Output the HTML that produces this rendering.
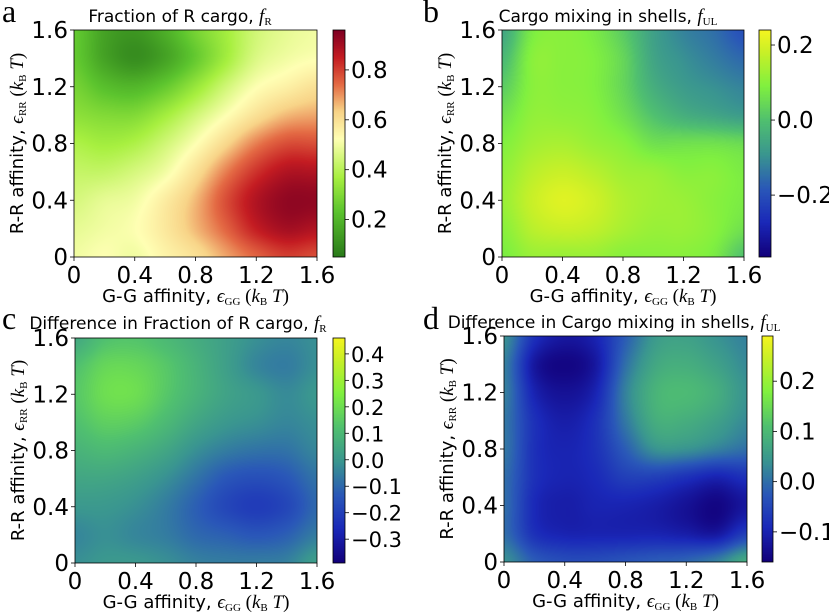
<!DOCTYPE html>
<html><head><meta charset="utf-8">
<style>
html,body{margin:0;padding:0;background:#fff;}
#root{position:relative;width:829px;height:616px;overflow:hidden;font-family:"DejaVu Sans","Liberation Sans",sans-serif;}
canvas{position:absolute;}
svg{position:absolute;left:0;top:0;}
</style></head>
<body>
<div id="root">
<svg id="ov" width="829" height="616"></svg>
</div>
<script>
// ---- Data (9x9 grids; rows = R-R affinity 0..1.6, cols = G-G affinity 0..1.6) ----
const axisTicks = [0, 0.4, 0.8, 1.2, 1.6];
const axisTickLabels = ["0", "0.4", "0.8", "1.2", "1.6"];
const gridCoords = [0, 0.2, 0.4, 0.6, 0.8, 1.0, 1.2, 1.4, 1.6];

const valuesA = [
 [0.50,0.52,0.50,0.55,0.60,0.68,0.75,0.80,0.78],
 [0.48,0.50,0.52,0.58,0.66,0.75,0.85,0.90,0.88],
 [0.45,0.48,0.50,0.57,0.66,0.78,0.88,0.93,0.93],
 [0.42,0.42,0.45,0.50,0.60,0.72,0.82,0.88,0.88],
 [0.38,0.36,0.38,0.44,0.52,0.62,0.72,0.78,0.78],
 [0.32,0.30,0.30,0.36,0.44,0.52,0.60,0.66,0.68],
 [0.28,0.22,0.20,0.25,0.34,0.44,0.52,0.56,0.60],
 [0.25,0.15,0.10,0.15,0.25,0.36,0.46,0.50,0.52],
 [0.25,0.15,0.12,0.18,0.28,0.36,0.44,0.48,0.50]];
const valuesB = [
 [0.08,0.12,0.12,0.12,0.10,0.10,0.10,0.08,0.00],
 [0.10,0.16,0.18,0.17,0.14,0.12,0.12,0.10,0.06],
 [0.12,0.18,0.21,0.19,0.15,0.13,0.12,0.10,0.08],
 [0.11,0.16,0.18,0.16,0.13,0.12,0.10,0.10,0.08],
 [0.09,0.13,0.14,0.12,0.10,0.06,0.06,0.06,0.05],
 [0.06,0.11,0.11,0.10,0.06,0.00,-0.04,-0.06,-0.08],
 [0.02,0.10,0.10,0.09,0.04,-0.04,-0.08,-0.10,-0.12],
 [-0.02,0.10,0.10,0.09,0.04,-0.06,-0.10,-0.13,-0.16],
 [-0.06,0.08,0.10,0.08,0.02,-0.07,-0.12,-0.15,-0.20]];
const valuesC = [
 [-0.02,0.00,0.00,-0.02,-0.05,-0.06,-0.06,-0.05,0.02],
 [-0.04,-0.02,-0.04,-0.06,-0.10,-0.12,-0.14,-0.12,-0.06],
 [0.00,0.00,-0.02,-0.06,-0.12,-0.18,-0.21,-0.18,-0.10],
 [0.04,0.04,0.02,-0.02,-0.08,-0.14,-0.16,-0.14,-0.08],
 [0.08,0.10,0.08,0.04,-0.02,-0.06,-0.08,-0.08,-0.04],
 [0.12,0.16,0.15,0.10,0.04,0.00,-0.02,-0.04,-0.02],
 [0.14,0.20,0.20,0.14,0.08,0.03,0.00,-0.03,0.00],
 [0.12,0.18,0.18,0.14,0.08,0.02,-0.04,-0.06,-0.02],
 [0.05,0.12,0.13,0.10,0.06,0.02,-0.02,-0.04,-0.02]];
const valuesD = [
 [0.04,-0.02,-0.04,-0.04,-0.03,-0.02,-0.01,0.02,0.08],
 [0.00,-0.08,-0.10,-0.10,-0.10,-0.10,-0.11,-0.12,-0.06],
 [0.00,-0.09,-0.11,-0.10,-0.10,-0.11,-0.13,-0.15,-0.12],
 [0.00,-0.08,-0.10,-0.09,-0.06,-0.06,-0.08,-0.10,-0.08],
 [0.01,-0.08,-0.10,-0.08,-0.02,0.04,0.04,0.02,0.00],
 [0.01,-0.08,-0.11,-0.08,0.01,0.08,0.08,0.06,0.03],
 [0.02,-0.10,-0.13,-0.10,0.02,0.09,0.10,0.08,0.04],
 [0.02,-0.12,-0.15,-0.12,0.00,0.07,0.08,0.06,0.03],
 [0.04,-0.08,-0.12,-0.10,-0.02,0.05,0.06,0.04,0.02]];

const cbTicksA = [0.2, 0.4, 0.6, 0.8];
const cbLabelsA = ["0.2","0.4","0.6","0.8"];
const cbTicksB = [-0.2, 0.0, 0.2];
const cbLabelsB = ["\u22120.2","0.0","0.2"];
const cbTicksC = [-0.3,-0.2,-0.1,0.0,0.1,0.2,0.3,0.4];
const cbLabelsC = ["\u22120.3","\u22120.2","\u22120.1","0.0","0.1","0.2","0.3","0.4"];
const cbTicksD = [-0.1, 0.0, 0.1, 0.2];
const cbLabelsD = ["\u22120.1","0.0","0.1","0.2"];

// ---- colormaps ----
const cmapRYG = [[0,"#2a7a1a"],[0.2,"#5cc42e"],[0.35,"#a8f040"],[0.52,"#ffffb4"],[0.64,"#f8d488"],[0.76,"#e46a44"],[0.88,"#c41c22"],[1,"#7e0022"]];
const cmapVG = [[0,"#12007a"],[0.15,"#1a28b8"],[0.3,"#2a58b8"],[0.45,"#3a9690"],[0.6,"#50c070"],[0.75,"#80f040"],[0.9,"#c8f028"],[1,"#f5f520"]];
function hex(c){return [parseInt(c.substr(1,2),16),parseInt(c.substr(3,2),16),parseInt(c.substr(5,2),16)];}
function cmapColor(cm,t){
  t=Math.max(0,Math.min(1,t));
  for(let i=1;i<cm.length;i++){ if(t<=cm[i][0]){ const a=hex(cm[i-1][1]),b=hex(cm[i][1]); const f=(t-cm[i-1][0])/(cm[i][0]-cm[i-1][0]); return [a[0]+(b[0]-a[0])*f,a[1]+(b[1]-a[1])*f,a[2]+(b[2]-a[2])*f]; } }
  return hex(cm[cm.length-1][1]);
}
function cr(p0,p1,p2,p3,t){return 0.5*(2*p1+(-p0+p2)*t+(2*p0-5*p1+4*p2-p3)*t*t+(-p0+3*p1-3*p2+p3)*t*t*t);}
function sample(g,x,y){
  const n=g.length; const ix=Math.min(n-2,Math.floor(x)), iy=Math.min(n-2,Math.floor(y));
  const fx=x-ix, fy=y-iy; const cl=i=>Math.max(0,Math.min(n-1,i));
  const rows=[];
  for(let j=-1;j<=2;j++){const r=g[cl(iy+j)]; rows.push(cr(r[cl(ix-1)],r[cl(ix)],r[cl(ix+1)],r[cl(ix+2)],fx));}
  return cr(rows[0],rows[1],rows[2],rows[3],fy);
}
const NS="http://www.w3.org/2000/svg";
const ov=document.getElementById('ov');
const root=document.getElementById('root');
function el(tag,attrs,parent){const e=document.createElementNS(NS,tag);for(const k in attrs)e.setAttribute(k,attrs[k]);(parent||ov).appendChild(e);return e;}
function txt(x,y,s,size,anchor,parent,extra){const t=el('text',Object.assign({x:x,y:y,'font-size':size,'text-anchor':anchor||'start',fill:'#000'},extra||{}),parent);t.textContent=s;return t;}

function panel(p){
  const g=el('g',{});
  
  
  const W=p.x1-p.x0,H=p.y1-p.y0;
  const xs=v=>p.x0+v/1.6*W, ys=v=>p.y1-v/1.6*H;
  const cv=document.createElement('canvas');
  cv.width=W;cv.height=H;cv.style.left=p.x0+'px';cv.style.top=p.y0+'px';
  
  
  root.insertBefore(cv,ov);
  const ctx=cv.getContext('2d');const img=ctx.createImageData(W,H);
  const n=p.data.length-1;
  for(let py=0;py<H;py++)for(let px=0;px<W;px++){
    const gx=(px+0.5)/W*n, gy=(H-py-0.5)/H*n;
    const v=sample(p.data,gx,gy);
    const c=cmapColor(p.cmap,(v-p.vmin)/(p.vmax-p.vmin));
    const k=(py*W+px)*4;img.data[k]=c[0];img.data[k+1]=c[1];img.data[k+2]=c[2];img.data[k+3]=255;
  }
  ctx.putImageData(img,0,0);
  const cb=document.createElement('canvas');
  const CW=p.c1-p.c0;cb.width=CW;cb.height=H;cb.style.left=p.c0+'px';cb.style.top=p.y0+'px';
  
  
  root.insertBefore(cb,ov);
  const c2=cb.getContext('2d');
  for(let py=0;py<H;py++){const c=cmapColor(p.cmap,(H-py-0.5)/H);c2.fillStyle=`rgb(${c[0]|0},${c[1]|0},${c[2]|0})`;c2.fillRect(0,py,CW,1);}
  el('rect',{x:p.x0,y:p.y0,width:W,height:H,fill:'none',stroke:'#000','stroke-width':0.8},g);
  el('rect',{x:p.c0,y:p.y0,width:CW,height:H,fill:'none',stroke:'#000','stroke-width':0.8},g);
  axisTicks.forEach((v,i)=>{
    el('line',{x1:xs(v),x2:xs(v),y1:p.y1,y2:p.y1+4,stroke:'#000','stroke-width':0.8},g);
    const tx=txt(xs(v),p.y1+26,axisTickLabels[i],23,'middle',g);
    
    
    el('line',{x1:p.x0-4,x2:p.x0,y1:ys(v),y2:ys(v),stroke:'#000','stroke-width':0.8},g);
    const ty=txt(p.x0-6,ys(v)+8,axisTickLabels[i],23,'end',g);
    
    
  });
  const cs=v=>p.y1-(v-p.vmin)/(p.vmax-p.vmin)*H;
  p.cbT.forEach((v,i)=>{
    el('line',{x1:p.c1,x2:p.c1+4,y1:cs(v),y2:cs(v),stroke:'#000','stroke-width':0.8},g);
    const t=txt(p.c1+6,cs(v)+8,p.cbL[i],p.cbSize||23,'start',g);
    
    
  });
  const xl=txt((p.x0+p.x1)/2,p.y1+45,'G-G affinity, ',18,'middle',g);
  
  
  addMath(xl,'GG');
  const yl=el('text',{x:0,y:0,'font-size':18,'text-anchor':'middle',transform:`translate(${p.x0-51},${(p.y0+p.y1)/2}) rotate(-90)`},g);
  yl.textContent='R-R affinity, ';
  
  
  addMath(yl,'RR');
  const tt=txt(p.tx,p.ty,p.title+', ',17,'middle',g);
  
  
  const f=el('tspan',{'font-family':'Liberation Serif, serif','font-style':'italic','font-size':19},tt);f.textContent='f';
  const s=el('tspan',{'font-family':'Liberation Serif, serif','font-size':11,dy:3},tt);s.textContent=p.sub;
  const L=txt(p.lx,p.ly,p.id,32,'start',g,{'font-family':'Liberation Serif, serif'});
  
  
}
function addMath(t,sub){
  const e=el('tspan',{'font-family':'Liberation Serif, serif','font-style':'italic','font-size':19},t);e.textContent='\u03F5';
  const s=el('tspan',{'font-family':'Liberation Serif, serif','font-size':11,dy:3},t);s.textContent=sub;
  const a=el('tspan',{'font-family':'Liberation Serif, serif','font-size':19,dy:-3},t);a.textContent='  (';
  const k=el('tspan',{'font-family':'Liberation Serif, serif','font-style':'italic','font-size':19},t);k.textContent='k';
  const b=el('tspan',{'font-family':'Liberation Serif, serif','font-size':11,dy:3},t);b.textContent='B';
  const T=el('tspan',{'font-family':'Liberation Serif, serif','font-style':'italic','font-size':19,dy:-3},t);T.textContent=' T';
  const c=el('tspan',{'font-family':'Liberation Serif, serif','font-size':19},t);c.textContent=')';
}
panel({id:'a',x0:74,x1:317,y0:30,y1:257,c0:333,c1:345,data:valuesA,cmap:cmapRYG,vmin:0.05,vmax:0.96,cbT:cbTicksA,cbL:cbLabelsA,title:'Fraction of R cargo',sub:'R',tx:180,ty:22,lx:2,ly:22});
panel({id:'b',x0:502,x1:744,y0:30,y1:257,c0:759,c1:771,data:valuesB,cmap:cmapVG,vmin:-0.365,vmax:0.24,cbT:cbTicksB,cbL:cbLabelsB,title:'Cargo mixing in shells',sub:'UL',tx:608,ty:22,lx:423,ly:22});
panel({id:'c',x0:75,x1:317,y0:338,y1:563,c0:333,c1:345,data:valuesC,cmap:cmapVG,vmin:-0.39,vmax:0.46,cbT:cbTicksC,cbL:cbLabelsC,cbSize:21,title:'Difference in Fraction of R cargo',sub:'R',tx:178,ty:329,lx:2,ly:329});
panel({id:'d',x0:504,x1:747,y0:336,y1:562,c0:762,c1:773,data:valuesD,cmap:cmapVG,vmin:-0.16,vmax:0.29,cbT:cbTicksD,cbL:cbLabelsD,title:'Difference in Cargo mixing in shells',sub:'UL',tx:614,ty:328,lx:423,ly:329});
</script>
</body></html>
